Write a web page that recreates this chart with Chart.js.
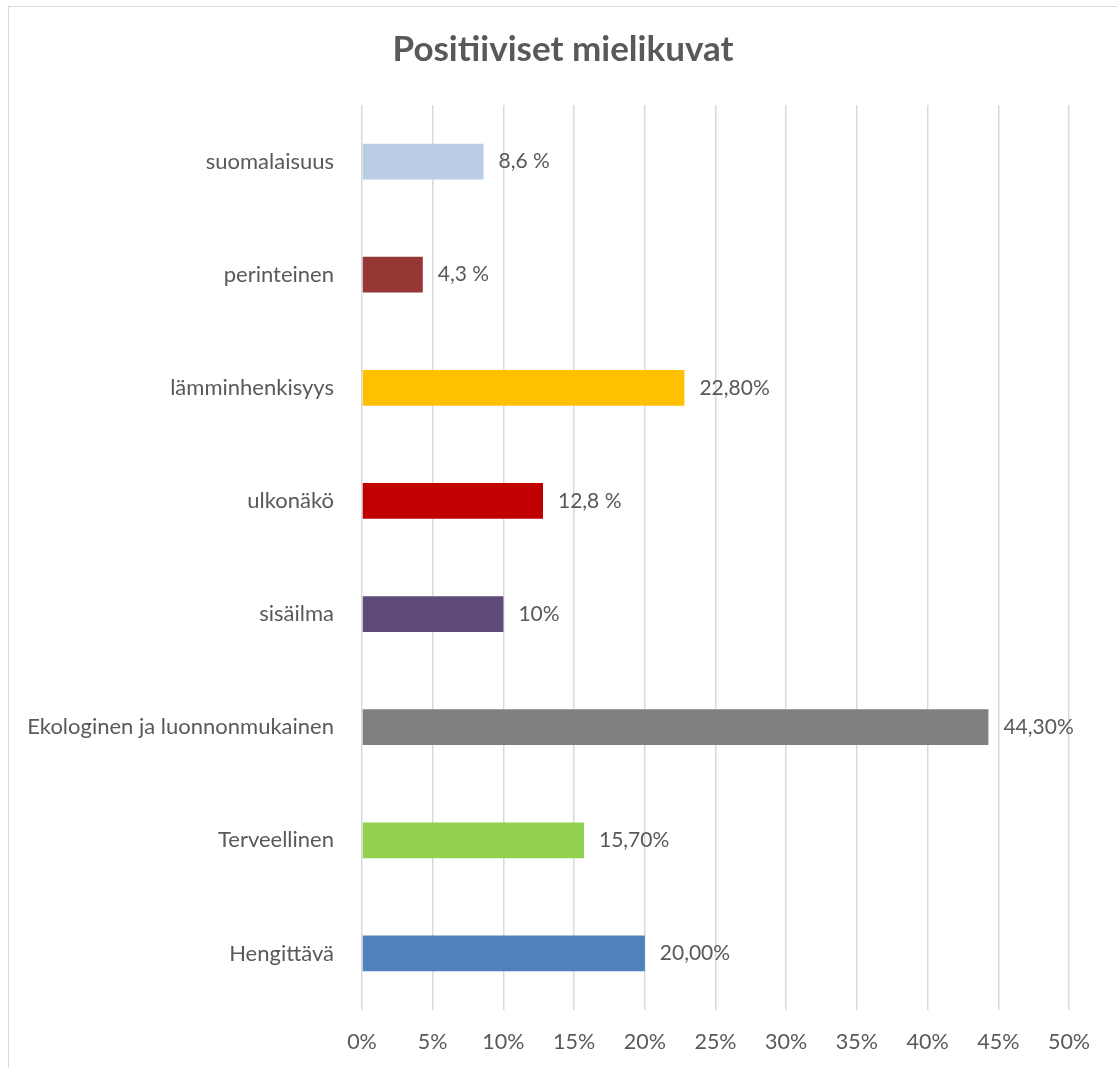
<!DOCTYPE html>
<html>
<head>
<meta charset="utf-8">
<script src="https://cdn.jsdelivr.net/npm/chart.js@4.4.1/dist/chart.umd.min.js"></script>
<style>
  html, body { margin: 0; padding: 0; background: #fff; overflow: hidden; }
  .frame {
    position: absolute; left: 8px; top: 6px;
    width: 1108px; height: 1070px;
    border: 1px solid #d9d9d9;
  }
</style>
</head>
<body>
<div class="frame"><canvas id="chart"></canvas></div>
<script>
// chart data
const categories = ['suomalaisuus', 'perinteinen', 'lämminhenkisyys', 'ulkonäkö', 'sisäilma',
  'Ekologinen ja luonnonmukainen', 'Terveellinen', 'Hengittävä'];
const values = [8.6, 4.3, 22.8, 12.8, 10, 44.3, 15.7, 20.0];
const valueLabels = ['8,6 %', '4,3 %', '22,80%', '12,8 %', '10%', '44,30%', '15,70%', '20,00%'];
const barColors = ['#B9CDE5', '#953735', '#FFC000', '#C00000', '#604A7B', '#808080', '#92D050', '#4F81BD'];
const axisMax = 50;
const axisStep = 5;

const FONT = 'Lato, "Open Sans", sans-serif';
const TEXT = '#595959';

// draw the value next to each bar
const barLabels = {
  id: 'barLabels',
  afterDatasetsDraw(chart) {
    const ctx = chart.ctx;
    const meta = chart.getDatasetMeta(0);
    ctx.save();
    ctx.font = '21px ' + FONT;
    ctx.fillStyle = TEXT;
    ctx.textAlign = 'left';
    ctx.textBaseline = 'middle';
    meta.data.forEach((bar, i) => {
      ctx.fillText(valueLabels[i], bar.x + 15, bar.y);
    });
    ctx.restore();
  }
};

new Chart(document.getElementById('chart'), {
  type: 'bar',
  data: {
    labels: categories,
    datasets: [{
      data: values,
      backgroundColor: barColors,
      borderWidth: 0,
      barPercentage: 0.317,
      categoryPercentage: 1.0,
    }],
  },
  options: {
    indexAxis: 'y',
    responsive: true,
    maintainAspectRatio: false,
    animation: false,
    layout: { padding: 0 },
    plugins: {
      legend: { display: false },
      tooltip: { enabled: false },
      title: {
        display: true,
        text: 'Positiiviset mielikuvat',
        color: TEXT,
        font: { family: FONT, size: 35, weight: 'bold', lineHeight: 1.2 },
        padding: { top: 22, bottom: 34 },
      },
    },
    scales: {
      x: {
        min: 0,
        max: axisMax,
        afterFit(scale) { scale.height = 67; },
        grid: { color: '#d9d9d9', lineWidth: 1.5, drawTicks: false },
        border: { display: false },
        ticks: {
          stepSize: axisStep,
          padding: 19,
          color: TEXT,
          font: { family: FONT, size: 21.5 },
          callback: v => v + '%',
        },
      },
      y: {
        afterFit(scale) { scale.width = 353; },
        grid: { display: false, drawTicks: false },
        border: { display: false },
        ticks: {
          padding: 28,
          color: TEXT,
          font: { family: FONT, size: 22 },
        },
      },
      // empty right-hand margin so the title stays centred on the whole frame
      yRight: {
        type: 'category',
        position: 'right',
        afterFit(scale) { scale.width = 48; },
        grid: { display: false, drawTicks: false },
        border: { display: false },
        ticks: { display: false },
      },
    },
  },
  plugins: [barLabels],
});
</script>
</body>
</html>
